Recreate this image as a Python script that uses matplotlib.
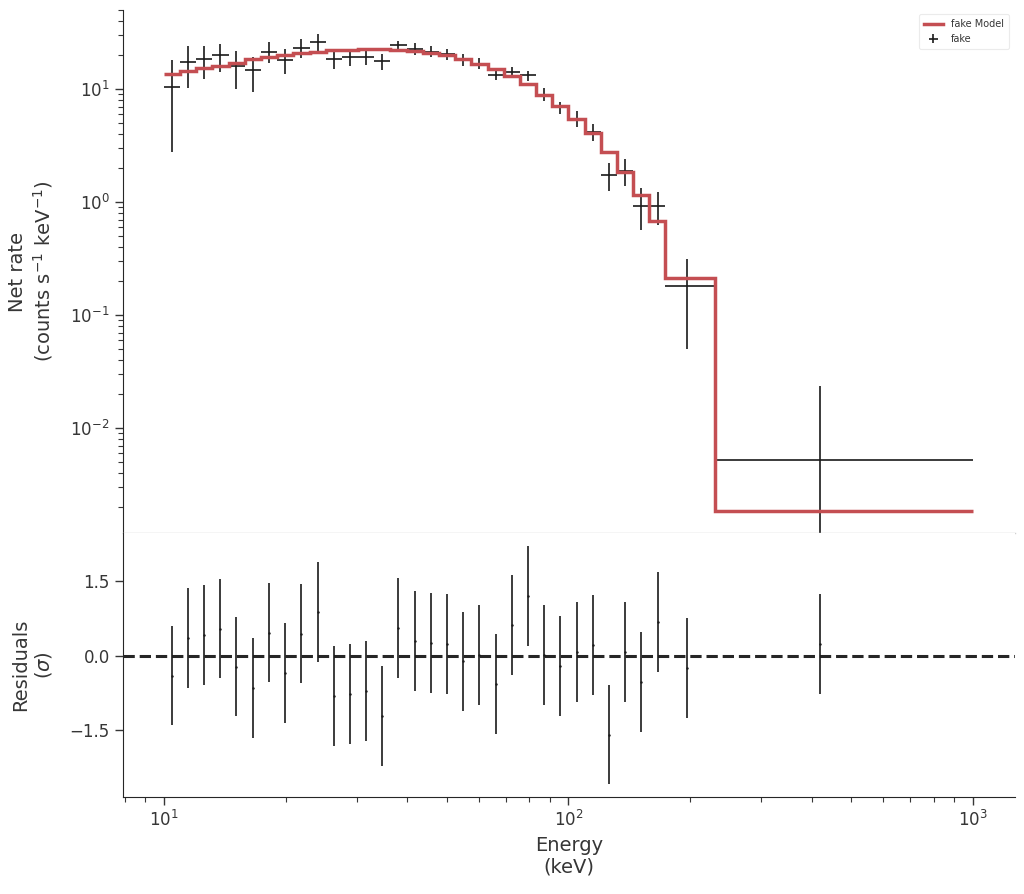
import numpy as np
import matplotlib.pyplot as plt
from matplotlib.ticker import LogLocator, NullFormatter, FixedLocator

# ================= DATA =================
# channel edges in keV (last two bins are rebinned / wide)
edges = [10.00, 10.96, 12.02, 13.18, 14.45, 15.85, 17.38, 19.05, 20.89, 22.91,
         25.12, 27.54, 30.20, 33.11, 36.31, 39.81, 43.65, 47.86, 52.48, 57.54,
         63.10, 69.18, 75.86, 83.18, 91.20, 100.0, 109.6, 120.2, 131.8, 144.5,
         158.5, 173.8, 229.8, 1000.0]

energy = [10.48, 11.49, 12.58, 13.78, 15.09, 16.63, 18.21, 19.95, 21.85, 23.99,
          26.32, 28.83, 31.63, 34.65, 37.95, 41.67, 45.79, 50.14, 54.94, 60.17,
          66.30, 72.63, 79.55, 87.15, 95.43, 104.9, 115.2, 126.1, 138.1, 151.4,
          166.7, 196.0, 418.8]

rate = [10.35, 17.23, 18.32, 20.0, 16.08, 14.64, 21.38, 18.06, 22.93, 25.9,
        18.43, 19.19, 19.31, 17.58, 24.66, 22.46, 21.38, 20.28, 18.17, 16.64,
        13.43, 14.05, 13.17, 8.62, 6.93, 5.39, 4.19, 1.73, 1.89, 0.927,
        0.922, 0.1795, 0.00521]

rate_hi = [18.06, 24.2, 24.2, 25.2, 21.8, 19.31, 26.2, 22.46, 27.5, 30.5,
           21.4, 22.1, 22.46, 20.4, 26.6, 25.4, 24.2, 22.46, 20.28, 18.7,
           15.25, 15.75, 14.52, 10.15, 7.72, 6.43, 4.87, 2.2, 2.40, 1.32,
           1.22, 0.311, 0.0235]

rate_lo = [2.79, 10.15, 12.26, 14.05, 9.94, 9.41, 16.89, 13.57, 18.7, 21.4,
           15.03, 15.9, 16.3, 14.73, 21.1, 20.0, 19.08, 18.06, 15.98, 14.94,
           12.01, 12.69, 11.77, 7.83, 6.01, 4.58, 3.44, 1.25, 1.38, 0.562,
           0.622, 0.0503, 0.0005]

model = [13.57, 14.43, 15.25, 16.08, 17.09, 18.32, 19.19, 19.87, 20.7, 21.26,
         22.0, 22.0, 22.46, 22.46, 22.0, 21.69, 20.96, 19.87, 18.32, 16.64,
         14.94, 13.03, 11.03, 8.94, 7.14, 5.43, 4.08, 2.75, 1.84, 1.146,
         0.679, 0.211, 0.00184]

resid = [-0.395, 0.362, 0.422, 0.549, -0.214, -0.643, 0.469, -0.342, 0.449, 0.884,
         -0.804, -0.764, -0.703, -1.206, 0.563, 0.301, 0.261, 0.241, -0.107, 0.02,
         -0.563, 0.623, 1.206, 0.02, -0.2, 0.08, 0.221, -1.587, 0.08, -0.522,
         0.683, -0.241, 0.241]
resid_err = 1.0

resid_ticks = [-1.5, 0.0, 1.5]

# ================= STYLE =================
DARK = "#363636"
RED = "#c44e52"
plt.rcParams.update({
    "font.family": ["DejaVu Sans"],
    "text.color": DARK,
    "axes.labelcolor": DARK,
    "xtick.color": DARK,
    "ytick.color": DARK,
    "axes.edgecolor": "#262626",
    "xtick.direction": "out",
    "ytick.direction": "out",
})

# ================= FIGURE =================
fig = plt.figure(figsize=(10.24, 8.94), dpi=100)
ax = fig.add_axes([0.1201, 0.4038, 0.8711, 0.5850])
axr = fig.add_axes([0.1201, 0.1085, 0.8711, 0.2953], sharex=ax)

energy = np.array(energy)
edges = np.array(edges)
rate = np.array(rate)
xerr = [energy - edges[:-1], edges[1:] - energy]
yerr = [rate - np.array(rate_lo), np.array(rate_hi) - rate]

ax.stairs(model, edges, baseline=None, color=RED, lw=2.5, label="fake Model", zorder=3)
ax.errorbar(energy, rate, xerr=xerr, yerr=yerr, fmt="none", ecolor="#1a1a1a",
            elinewidth=1.2, label="fake", zorder=2)

ax.set_xscale("log")
ax.set_yscale("log")
ax.set_xlim(7.92, 1271)
ax.set_ylim(1.18e-3, 50)
ax.yaxis.set_major_locator(LogLocator(base=10, numticks=10))
ax.yaxis.set_minor_locator(LogLocator(base=10, subs=np.arange(2, 10), numticks=10))
ax.yaxis.set_minor_formatter(NullFormatter())
ax.set_yticks([1e-2, 1e-1, 1e0, 1e1])
ax.tick_params(axis="y", which="major", length=6, width=1, labelsize=12)
ax.tick_params(axis="y", which="minor", length=3.5, width=0.8)
ax.tick_params(axis="x", which="both", bottom=False, labelbottom=False)
ax.spines["top"].set_visible(False)
ax.spines["right"].set_visible(False)
ax.spines["bottom"].set_color("#d0d0d0")
ax.spines["bottom"].set_linewidth(1.0)
ax.set_ylabel("Net rate\n(counts s$^{-1}$ keV$^{-1}$)", fontsize=14, labelpad=11)

leg = ax.legend(loc="upper right", fontsize=7, frameon=True, borderpad=0.5,
                borderaxespad=0, bbox_to_anchor=(0.993, 0.992))
leg.get_frame().set_edgecolor("#e6e6e6")
leg.get_frame().set_linewidth(0.8)

# ---- residuals ----
axr.axhline(0, color="#262626", ls="--", lw=2.2, zorder=1)
axr.errorbar(energy, resid, yerr=resid_err, fmt=".", color="#1a1a1a", ms=1.5,
             elinewidth=1.2, zorder=2)
axr.set_ylim(-2.84, 2.475)
axr.yaxis.set_major_locator(FixedLocator(resid_ticks))
axr.set_yticklabels(["\u22121.5", "0.0", "1.5"])
axr.tick_params(axis="y", which="major", length=6, width=1, labelsize=12)
axr.tick_params(axis="x", which="major", length=6, width=1, labelsize=12)
axr.tick_params(axis="x", which="minor", length=3.5, width=0.8)
axr.xaxis.set_major_locator(LogLocator(base=10, numticks=10))
axr.xaxis.set_minor_locator(LogLocator(base=10, subs=np.arange(2, 10), numticks=10))
axr.xaxis.set_minor_formatter(NullFormatter())
axr.spines["top"].set_visible(False)
axr.spines["right"].set_visible(False)
axr.set_ylabel("Residuals\n($\\sigma$)", fontsize=14, labelpad=11)
axr.set_xlabel("Energy\n(keV)", fontsize=14)

fig.align_ylabels([ax, axr])

fig.savefig("out.png", dpi=100)
plt.close(fig)
